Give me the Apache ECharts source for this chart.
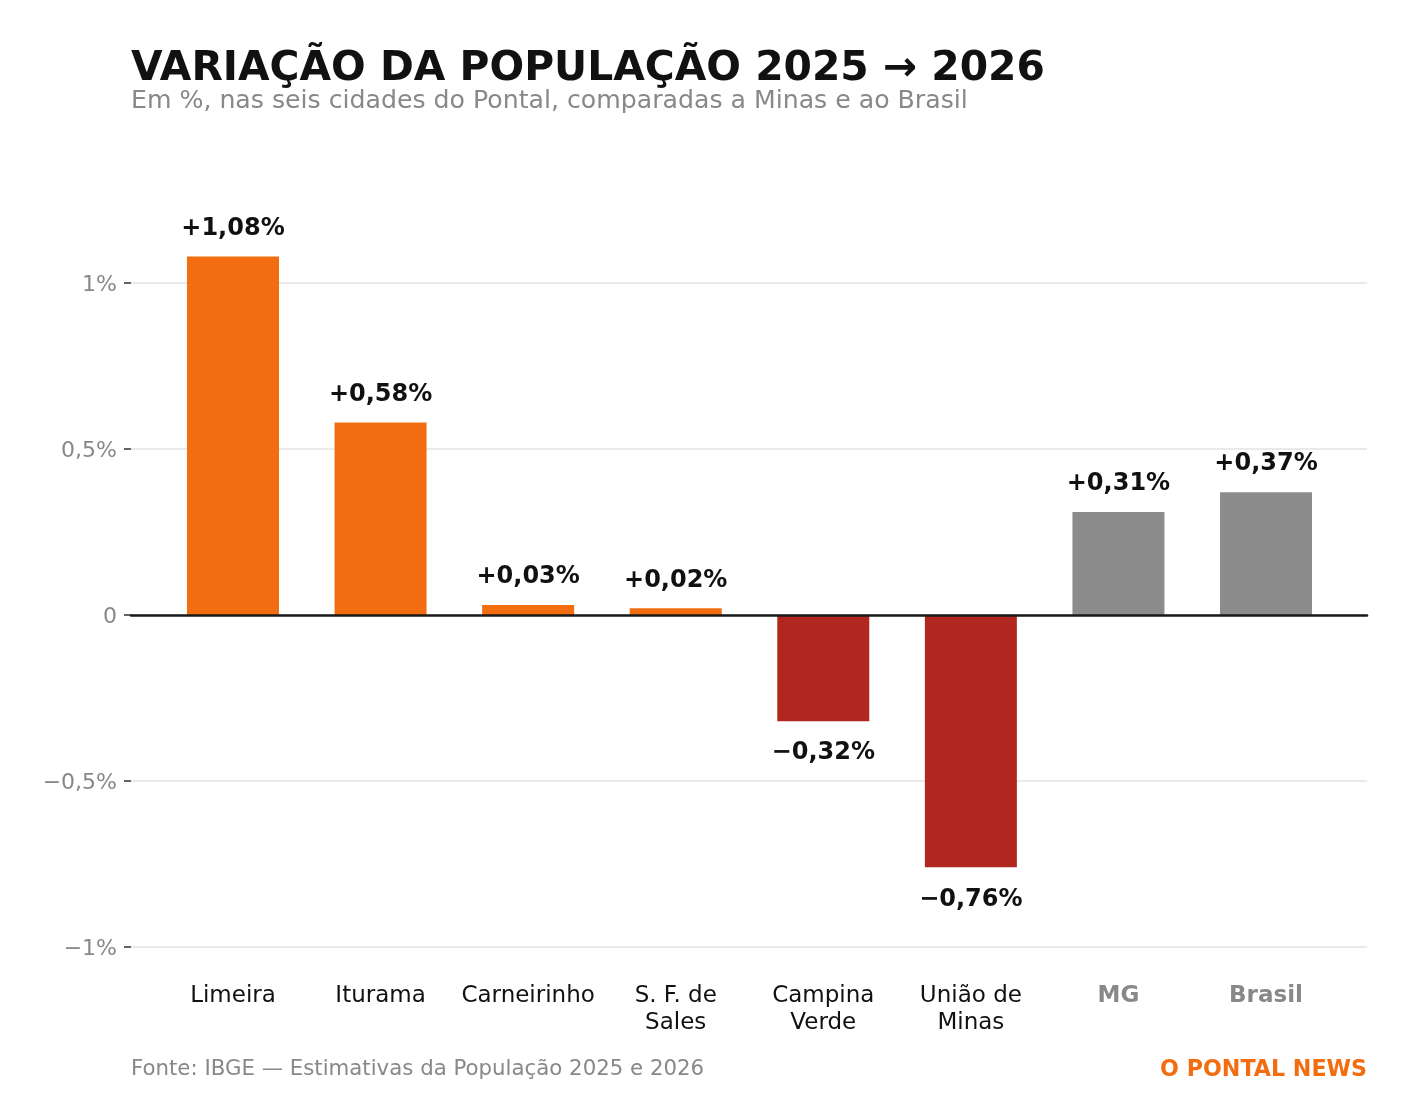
<!DOCTYPE html>
<html>
<head>
<meta charset="utf-8">
<script src="https://cdn.jsdelivr.net/npm/echarts@6/dist/echarts.min.js"></script>
<style>
html,body{margin:0;padding:0;background:#fff;}
#chart{width:1410px;height:1120px;}
</style>
</head>
<body>
<div id="chart"></div>
<script>
const categories = ['Limeira', 'Iturama', 'Carneirinho', 'S. F. de\nSales', 'Campina\nVerde', 'União de\nMinas', 'MG', 'Brasil'];
const values = [1.08, 0.58, 0.03, 0.02, -0.32, -0.76, 0.31, 0.37];
const kinds = ['city', 'city', 'city', 'city', 'city', 'city', 'ref', 'ref'];
const yTicks = [-1, -0.5, 0, 0.5, 1];

const FONT = 'DejaVu Sans';
const ORANGE = '#F26D10';
const RED = '#B22620';
const GREY = '#8C8C8C';

function fmtNum(v) { return v.toFixed(2).replace('.', ','); }
function fmtVal(v) { return (v < 0 ? '\u2212' : '+') + fmtNum(Math.abs(v)) + '%'; }
function fmtTick(v) {
  if (Math.abs(v) < 1e-9) return '{t|0}';
  const a = Math.abs(v);
  const s = (Math.abs(a - Math.round(a)) < 1e-9) ? String(Math.round(a)) : String(a).replace('.', ',');
  return '{t|' + (v < 0 ? '\u2212' : '') + s + '%}';
}

const seriesData = values.map((v, i) => ({
  value: v,
  itemStyle: { color: kinds[i] === 'ref' ? GREY : (v < 0 ? RED : ORANGE) },
  label: { position: v < 0 ? 'bottom' : 'top', distance: v < 0 ? 20 : 16 }
}));

const chart = echarts.init(document.getElementById('chart'), null, { renderer: 'canvas' });
chart.setOption({
  backgroundColor: '#fff',
  animation: false,
  textStyle: { fontFamily: FONT },
  title: [
    { text: 'VARIAÇÃO DA POPULAÇÃO 2025 \u2192 2026', left: 131, top: 49, padding: 0,
      textStyle: { fontFamily: FONT, fontSize: 40.8, fontWeight: 'bold', color: '#111' } },
    { text: 'Em %, nas seis cidades do Pontal, comparadas a Minas e ao Brasil', left: 131, top: 89, padding: 0,
      textStyle: { fontFamily: FONT, fontSize: 25.2, fontWeight: 'normal', color: '#888' } },
    { text: 'Fonte: IBGE \u2014 Estimativas da População 2025 e 2026', left: 131, top: 1059, padding: 0,
      textStyle: { fontFamily: FONT, fontSize: 21.3, fontWeight: 'normal', color: '#888' } },
    { text: 'O PONTAL NEWS', right: 43, top: 1059, padding: 0,
      textStyle: { fontFamily: FONT, fontSize: 22.2, fontWeight: 'bold', color: '#F26D10' } }
  ],
  grid: [
    { left: 131, right: 43, top: 283, height: 664 },
    { left: 159.2, right: 70.2, top: 283, height: 664 }
  ],
  xAxis: [
    { type: 'category', gridIndex: 0, data: [''], z: 10,
      axisLine: { show: true, onZero: true, lineStyle: { color: '#1a1a1a', width: 2.5 } },
      axisTick: { show: false }, axisLabel: { show: false }, splitLine: { show: false } },
    { type: 'category', gridIndex: 1, data: categories,
      axisLine: { show: false }, axisTick: { show: false }, splitLine: { show: false },
      axisLabel: {
        interval: 0, margin: 36,
        formatter: function (v, i) {
          const k = kinds[i] === 'ref' ? 'ref' : 'city';
          return v.split('\n').map(s => '{' + k + '|' + s + '}').join('\n');
        },
        rich: {
          city: { fontFamily: FONT, fontSize: 23, color: '#111', lineHeight: 27 },
          ref: { fontFamily: FONT, fontSize: 23, color: '#888', fontWeight: 'bold', lineHeight: 27 }
        }
      } }
  ],
  yAxis: [
    { type: 'value', gridIndex: 0, min: -1, max: 1, interval: 0.5,
      axisLine: { show: false },
      axisTick: { show: true, length: 7, lineStyle: { color: '#333', width: 1.5 } },
      axisLabel: { margin: 14, fontFamily: FONT, fontSize: 22, color: '#888', formatter: fmtTick,
        rich: { t: { fontFamily: FONT, fontSize: 22, color: '#888', padding: [5, 0, 0, 0] } } },
      splitLine: { show: true, lineStyle: { color: '#e3e3e3', width: 1.5 } } },
    { type: 'value', gridIndex: 1, min: -1, max: 1, interval: 0.5, show: false,
      splitLine: { show: false } }
  ],
  series: [
    { type: 'bar', xAxisIndex: 1, yAxisIndex: 1, data: seriesData, barWidth: 92, clip: false,
      label: { show: true, fontFamily: FONT, fontSize: 24, fontWeight: 'bold', color: '#111',
        formatter: p => fmtVal(p.value) } }
  ]
});
</script>
</body>
</html>
